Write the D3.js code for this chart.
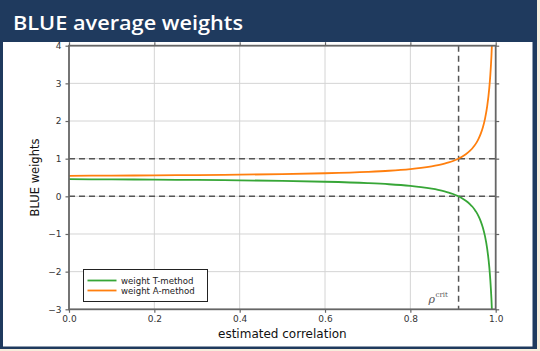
<!DOCTYPE html>
<html><head><meta charset="utf-8">
<script src="https://cdn.jsdelivr.net/npm/d3@7"></script>
<style>
html,body{margin:0;padding:0;background:#f6eddc;}
svg{display:block;}
</style></head>
<body>
<svg id="chart" width="540" height="351"></svg>
<script>
// ---- data ----
const title = "BLUE average weights";
const xLabel = "estimated correlation";
const yLabel = "BLUE weights";
const seriesNames = ["weight T-method", "weight A-method"];
const rho = [0, 0.1, 0.2, 0.3, 0.4, 0.5, 0.6, 0.7, 0.75, 0.8, 0.825, 0.85, 0.865, 0.88, 0.89, 0.9, 0.91, 0.92, 0.93, 0.94, 0.945, 0.95, 0.955, 0.96, 0.965, 0.97, 0.975, 0.98, 0.985, 0.9875, 0.99, 0.992, 0.995];
const weightA = [0.545, 0.550, 0.557, 0.565, 0.575, 0.590, 0.613, 0.650, 0.679, 0.723, 0.754, 0.796, 0.828, 0.867, 0.899, 0.938, 0.984, 1.042, 1.115, 1.211, 1.271, 1.342, 1.427, 1.532, 1.664, 1.835, 2.064, 2.387, 2.880, 3.238, 3.722, 4.252, 5.483];
const weightT = [0.455, 0.450, 0.443, 0.435, 0.425, 0.410, 0.387, 0.350, 0.321, 0.277, 0.246, 0.204, 0.172, 0.133, 0.101, 0.062, 0.016, -0.042, -0.115, -0.211, -0.271, -0.342, -0.427, -0.532, -0.664, -0.835, -1.064, -1.387, -1.880, -2.238, -2.722, -3.252, -4.483];
const rhoCrit = 0.913;
const refLevels = [0, 1];
const xTicks = [0, 0.2, 0.4, 0.6, 0.8, 1.0];
const yTicks = [-3, -2, -1, 0, 1, 2, 3, 4];
const colors = ["#37a637", "#ff7f0e"];

// ---- slide frame ----
const svg = d3.select("#chart");
const navy = "#1f3a5e";
svg.append("rect").attr("x",0).attr("y",0).attr("width",537).attr("height",349).attr("fill",navy);
svg.append("rect").attr("x",3).attr("y",42).attr("width",529.5).attr("height",304.5).attr("fill","#ffffff");
svg.append("text").attr("x",13).attr("y",29.5).attr("fill","#ffffff")
  .attr("font-family","'Open Sans', Lato, sans-serif").attr("font-weight",600).attr("font-size",20.5)
  .attr("textLength",230).attr("lengthAdjust","spacingAndGlyphs")
  .text(title);

// ---- plot ----
const x = d3.scaleLinear().domain([0,1]).range([69,495.7]);
const y = d3.scaleLinear().domain([-3,4]).range([309.3,45.7]);
const [x0,x1] = x.range(), [y0,y1] = y.range();
const g = svg.append("g");

// grid
g.append("g").selectAll("line").data(xTicks.filter(d=>d>0&&d<1)).join("line")
  .attr("x1",d=>x(d)).attr("x2",d=>x(d)).attr("y1",y1).attr("y2",y0)
  .attr("stroke","#d4d4d4").attr("stroke-width",1);
g.append("g").selectAll("line").data(yTicks.filter(d=>d>-3&&d<4)).join("line")
  .attr("y1",d=>y(d)).attr("y2",d=>y(d)).attr("x1",x0).attr("x2",x1)
  .attr("stroke","#d4d4d4").attr("stroke-width",1);

// clip
svg.append("clipPath").attr("id","clip").append("rect")
  .attr("x",x0).attr("y",y1).attr("width",x1-x0).attr("height",y0-y1);

// reference dashed lines
const dashC = "#555555";
g.append("g").selectAll("line").data(refLevels).join("line")
  .attr("x1",x0).attr("x2",x1).attr("y1",d=>y(d)).attr("y2",d=>y(d))
  .attr("stroke",dashC).attr("stroke-width",1.5).attr("stroke-dasharray","6,4");
g.append("line").attr("x1",x(rhoCrit)).attr("x2",x(rhoCrit)).attr("y1",y1).attr("y2",y0)
  .attr("stroke",dashC).attr("stroke-width",1.5).attr("stroke-dasharray","6,4");

// curves
const line = d3.line().curve(d3.curveMonotoneX);
const seriesData = [weightT, weightA];
seriesData.forEach((vals,i)=>{
  g.append("path").attr("clip-path","url(#clip)")
    .attr("d", line(rho.map((r,j)=>[x(r), y(vals[j])])))
    .attr("fill","none").attr("stroke",colors[i]).attr("stroke-width",1.8);
});

// axes
const axC = "#666666";
const fontTick = "'DejaVu Sans', sans-serif";
function styleAxis(sel, labels){
  sel.select(".domain").remove();
  sel.selectAll(".tick line").attr("stroke",axC).attr("stroke-width",1.2);
  sel.selectAll(".tick text").attr("fill","#333").attr("font-family",fontTick).attr("font-size",9);
  if(!labels) sel.selectAll(".tick text").remove();
}
const fmtY = d=> d<0 ? "\u2212"+Math.abs(d) : String(d);
svg.append("g").attr("transform",`translate(0,${y0})`)
  .call(d3.axisBottom(x).tickValues(xTicks).tickFormat(d3.format(".1f")).tickSize(3.5).tickPadding(3))
  .call(s=>styleAxis(s,true));
svg.append("g").attr("transform",`translate(0,${y1})`)
  .call(d3.axisTop(x).tickValues(xTicks).tickSize(3.5))
  .call(s=>styleAxis(s,false));
svg.append("g").attr("transform",`translate(${x0},0)`)
  .call(d3.axisLeft(y).tickValues(yTicks).tickFormat(fmtY).tickSize(3.5).tickPadding(4))
  .call(s=>styleAxis(s,true));
svg.append("g").attr("transform",`translate(${x1},0)`)
  .call(d3.axisRight(y).tickValues(yTicks).tickSize(3.5))
  .call(s=>styleAxis(s,false));

// spines
svg.append("rect").attr("x",x0).attr("y",y1).attr("width",x1-x0).attr("height",y0-y1)
  .attr("fill","none").attr("stroke",axC).attr("stroke-width",1.8);

// axis labels
svg.append("text").attr("x",(x0+x1)/2).attr("y",337.5).attr("text-anchor","middle")
  .attr("font-family",fontTick).attr("font-size",12).attr("fill","#111").text(xLabel);
svg.append("text").attr("transform",`translate(39,${(y0+y1)/2}) rotate(-90)`).attr("text-anchor","middle")
  .attr("font-family",fontTick).attr("font-size",11.5).attr("fill","#111").text(yLabel);

// rho crit label
const rl = svg.append("text").attr("x",428.5).attr("y",302.5).attr("fill","#555")
  .attr("font-family","'DejaVu Serif', 'Liberation Serif', serif");
rl.append("tspan").attr("font-style","italic").attr("font-size",11).text("\u03c1");
rl.append("tspan").attr("font-size",7).attr("dx",0.5).attr("dy",-6).text("crit");

// legend
const lg = svg.append("g");
lg.append("rect").attr("x",83.5).attr("y",269.5).attr("width",124).attr("height",32)
  .attr("fill","#fff").attr("stroke","#222").attr("stroke-width",1);
seriesNames.forEach((n,i)=>{
  const yy = 280.5 + i*10;
  lg.append("line").attr("x1",87.5).attr("x2",116.5).attr("y1",yy).attr("y2",yy)
    .attr("stroke",colors[i]).attr("stroke-width",1.8);
  lg.append("text").attr("x",121).attr("y",yy+3).attr("font-family",fontTick)
    .attr("font-size",8.6).attr("fill","#222").text(n);
});
</script>
</body></html>
